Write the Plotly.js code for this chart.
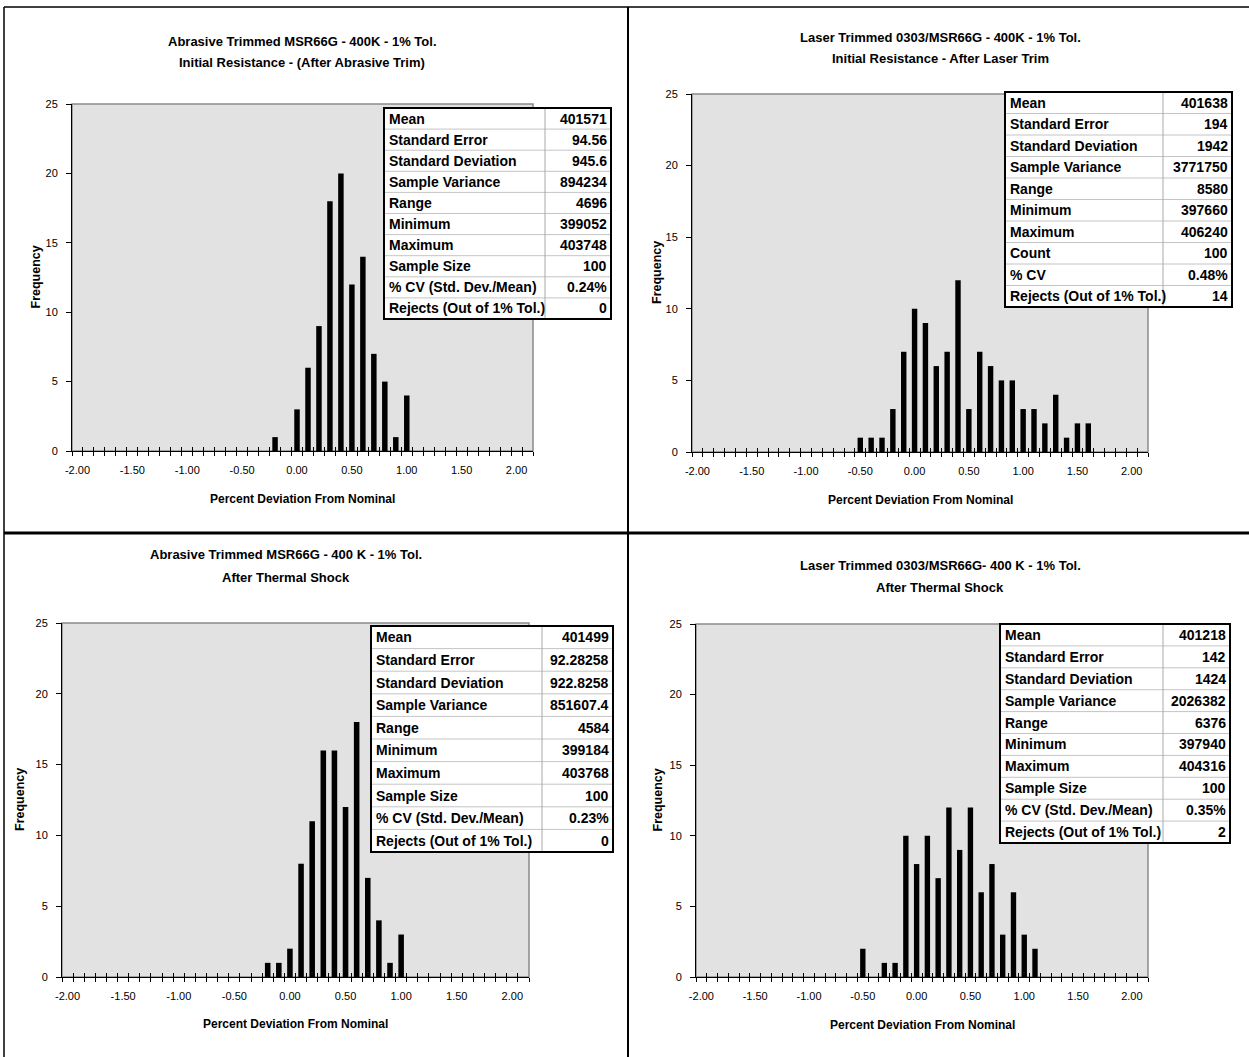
<!DOCTYPE html>
<html>
<head>
<meta charset="utf-8">
<script src="https://cdn.plot.ly/plotly-3.0.1.min.js"></script>
<style>
html,body{margin:0;padding:0;background:#fff;}
#chart{width:1249px;height:1057px;}
</style>
</head>
<body>
<div id="chart"></div>
<script>
// ---------------- DATA ----------------
const xTickVals = [-2, -1.5, -1, -0.5, 0, 0.5, 1, 1.5, 2];
const xTickText = ['-2.00', '-1.50', '-1.00', '-0.50', '0.00', '0.50', '1.00', '1.50', '2.00'];
const yTickVals = [0, 5, 10, 15, 20, 25];

const tlBins   = [-0.2, 0.0, 0.1, 0.2, 0.3, 0.4, 0.5, 0.6, 0.7, 0.8, 0.9, 1.0];
const tlCounts = [1, 3, 6, 9, 18, 20, 12, 14, 7, 5, 1, 4];

const trBins   = [-0.5, -0.4, -0.3, -0.2, -0.1, 0.0, 0.1, 0.2, 0.3, 0.4, 0.5, 0.6, 0.7, 0.8, 0.9, 1.0, 1.1, 1.2, 1.3, 1.4, 1.5, 1.6];
const trCounts = [1, 1, 1, 3, 7, 10, 9, 6, 7, 12, 3, 7, 6, 5, 5, 3, 3, 2, 4, 1, 2, 2];

const blBins   = [-0.2, -0.1, 0.0, 0.1, 0.2, 0.3, 0.4, 0.5, 0.6, 0.7, 0.8, 0.9, 1.0];
const blCounts = [1, 1, 2, 8, 11, 16, 16, 12, 18, 7, 4, 1, 3];

const brBins   = [-0.5, -0.3, -0.2, -0.1, 0.0, 0.1, 0.2, 0.3, 0.4, 0.5, 0.6, 0.7, 0.8, 0.9, 1.0, 1.1];
const brCounts = [2, 1, 1, 10, 8, 10, 7, 12, 9, 12, 6, 8, 3, 6, 3, 2];

const tlTitle = ['Abrasive Trimmed MSR66G - 400K - 1% Tol.', 'Initial Resistance - (After Abrasive Trim)'];
const trTitle = ['Laser Trimmed 0303/MSR66G - 400K - 1% Tol.', 'Initial Resistance - After Laser Trim'];
const blTitle = ['Abrasive Trimmed MSR66G - 400 K - 1% Tol.', 'After Thermal Shock'];
const brTitle = ['Laser Trimmed 0303/MSR66G- 400 K - 1% Tol.', 'After Thermal Shock'];
const xTitle = 'Percent Deviation From Nominal';
const yTitle = 'Frequency';

const tlStatLabels = ['Mean', 'Standard Error', 'Standard Deviation', 'Sample Variance', 'Range', 'Minimum', 'Maximum', 'Sample Size', '% CV (Std. Dev./Mean)', 'Rejects (Out of 1% Tol.)'];
const tlStatValues = ['401571', '94.56', '945.6', '894234', '4696', '399052', '403748', '100', '0.24%', '0'];
const trStatLabels = ['Mean', 'Standard Error', 'Standard Deviation', 'Sample Variance', 'Range', 'Minimum', 'Maximum', 'Count', '% CV', 'Rejects (Out of 1% Tol.)'];
const trStatValues = ['401638', '194', '1942', '3771750', '8580', '397660', '406240', '100', '0.48%', '14'];
const blStatLabels = ['Mean', 'Standard Error', 'Standard Deviation', 'Sample Variance', 'Range', 'Minimum', 'Maximum', 'Sample Size', '% CV (Std. Dev./Mean)', 'Rejects (Out of 1% Tol.)'];
const blStatValues = ['401499', '92.28258', '922.8258', '851607.4', '4584', '399184', '403768', '100', '0.23%', '0'];
const brStatLabels = ['Mean', 'Standard Error', 'Standard Deviation', 'Sample Variance', 'Range', 'Minimum', 'Maximum', 'Sample Size', '% CV (Std. Dev./Mean)', 'Rejects (Out of 1% Tol.)'];
const brStatValues = ['401218', '142', '1424', '2026382', '6376', '397940', '404316', '100', '0.35%', '2'];

// ---------------- LAYOUT HELPERS ----------------
const W = 1249, H = 1057;
const fx = p => p / W;
const fy = p => 1 - p / H;
const FONT = 'Liberation Sans, Arial, sans-serif';

const panels = [
  {bins: tlBins, counts: tlCounts, title: tlTitle, labels: tlStatLabels, values: tlStatValues,
   plot: [72, 533, 104, 451], titleX: 302, titleY: [42, 62], xtY: 499, ytX: 35,
   table: [384, 611, 108, 319], colSep: 545},
  {bins: trBins, counts: trCounts, title: trTitle, labels: trStatLabels, values: trStatValues,
   plot: [692, 1148, 94, 452], titleX: 940, titleY: [38, 59], xtY: 500, ytX: 657,
   table: [1005, 1232, 92, 307], colSep: 1163},
  {bins: blBins, counts: blCounts, title: blTitle, labels: blStatLabels, values: blStatValues,
   plot: [62, 529, 623, 977], titleX: 286, titleY: [554, 577], xtY: 1024, ytX: 20,
   table: [371, 613, 626, 852], colSep: 542},
  {bins: brBins, counts: brCounts, title: brTitle, labels: brStatLabels, values: brStatValues,
   plot: [696, 1148, 624, 977], titleX: 940, titleY: [565, 587], xtY: 1025, ytX: 657,
   table: [1000, 1230, 624, 843], colSep: 1163}
];

const data = [];
const layout = {
  width: W, height: H,
  margin: {l: 0, r: 0, t: 0, b: 0},
  paper_bgcolor: '#ffffff',
  plot_bgcolor: '#e2e2e2',
  showlegend: false,
  font: {family: FONT, size: 11, color: '#000'},
  shapes: [],
  annotations: []
};

const ann = (x, y, text, opts) => Object.assign({
  xref: 'paper', yref: 'paper', x: x, y: y, text: text, showarrow: false,
  xanchor: 'center', yanchor: 'middle', borderpad: 0
}, opts);

panels.forEach((p, i) => {
  const n = i + 1;
  const [l, r, t, b] = p.plot;
  const xd = [fx(l), fx(r)], yd = [fy(b), fy(t)];

  data.push({
    type: 'bar', x: p.bins, y: p.counts, width: 0.05,
    marker: {color: '#000', line: {width: 0}},
    xaxis: 'x' + n, yaxis: 'y' + n, hoverinfo: 'skip'
  });
  // empty traces registering the tick overlay axes
  data.push({type: 'scatter', x: [], y: [], xaxis: 'x' + (n + 4), yaxis: 'y' + n, hoverinfo: 'skip'});
  data.push({type: 'scatter', x: [], y: [], xaxis: 'x' + (n + 8), yaxis: 'y' + n, hoverinfo: 'skip'});

  layout['xaxis' + n] = {
    domain: xd, anchor: 'y' + n, range: [-2.05, 2.15],
    tickmode: 'array', tickvals: xTickVals, ticktext: xTickText,
    ticks: '', showgrid: false, zeroline: false,
    showline: true, linecolor: '#000', linewidth: 1,
    tickfont: {family: FONT, size: 11, color: '#000'}, ticklabelstandoff: 9
  };
  const tickAxis = (dir) => ({
    overlaying: 'x' + n, anchor: 'y' + n, side: 'bottom', range: [-2.05, 2.15],
    tickmode: 'linear', tick0: -2.05, dtick: 0.1, ticks: dir, ticklen: 4,
    tickcolor: '#000', tickwidth: 1, showticklabels: false,
    showgrid: false, zeroline: false, showline: false
  });
  layout['xaxis' + (n + 4)] = tickAxis('outside');
  layout['xaxis' + (n + 8)] = tickAxis('inside');
  layout['yaxis' + n] = {
    domain: yd, anchor: 'x' + n, range: [0, 25],
    tickmode: 'array', tickvals: yTickVals,
    ticks: 'outside', ticklen: 5, tickcolor: '#000',
    showgrid: false, zeroline: false,
    showline: true, linecolor: '#000', linewidth: 1,
    tickfont: {family: FONT, size: 11, color: '#000'}, ticklabelstandoff: 6
  };

  // gray plot frame (top & right)
  layout.shapes.push({
    type: 'rect', xref: 'x' + n + ' domain', yref: 'y' + n + ' domain',
    x0: 0, x1: 1, y0: 0, y1: 1, line: {color: '#8a8a8a', width: 1.5}, layer: 'below'
  });

  // titles
  p.title.forEach((line, k) => {
    layout.annotations.push(ann(fx(p.titleX), fy(p.titleY[k]), '<b>' + line + '</b>',
      {font: {family: FONT, size: 13, color: '#000'}}));
  });
  layout.annotations.push(ann((xd[0] + xd[1]) / 2, fy(p.xtY), '<b>' + xTitle + '</b>',
    {font: {family: FONT, size: 12, color: '#000'}}));
  layout.annotations.push(ann(fx(p.ytX), (yd[0] + yd[1]) / 2, '<b>' + yTitle + '</b>',
    {textangle: -90, font: {family: FONT, size: 12.5, color: '#000'}}));

  // statistics table (box, grid, text)
  const [tl, tr, tt, tb] = p.table;
  const nRows = p.labels.length;
  const rh = (tb - tt) / nRows;
  layout.shapes.push({
    type: 'rect', xref: 'paper', yref: 'paper',
    x0: fx(tl), x1: fx(tr), y0: fy(tb), y1: fy(tt),
    fillcolor: '#ffffff', line: {width: 0}, layer: 'above'
  });
  for (let k = 1; k < nRows; k++) {
    layout.shapes.push({
      type: 'line', xref: 'paper', yref: 'paper',
      x0: fx(tl), x1: fx(tr), y0: fy(tt + k * rh), y1: fy(tt + k * rh),
      line: {color: '#c4c4c4', width: 1}, layer: 'above'
    });
  }
  layout.shapes.push({
    type: 'line', xref: 'paper', yref: 'paper',
    x0: fx(p.colSep), x1: fx(p.colSep), y0: fy(tb), y1: fy(tt),
    line: {color: '#a8a8a8', width: 1}, layer: 'above'
  });
  layout.shapes.push({
    type: 'rect', xref: 'paper', yref: 'paper',
    x0: fx(tl), x1: fx(tr), y0: fy(tb), y1: fy(tt),
    line: {color: '#000', width: 2}, layer: 'above'
  });
  p.labels.forEach((lab, k) => {
    const yc = fy(tt + (k + 0.5) * rh);
    layout.annotations.push(ann(fx(tl + 4), yc, '<b>' + lab + '</b>',
      {xanchor: 'left', font: {family: FONT, size: 14, color: '#000'}}));
    layout.annotations.push(ann(fx(tr - 3), yc, '<b>' + p.values[k] + '</b>',
      {xanchor: 'right', font: {family: FONT, size: 14, color: '#000'}}));
  });
});

// panel dividers / frame
layout.shapes.push({type: 'line', xref: 'paper', yref: 'paper', x0: fx(4), x1: fx(4), y0: 0, y1: fy(7), line: {color: '#000', width: 1.5}});
layout.shapes.push({type: 'line', xref: 'paper', yref: 'paper', x0: fx(4), x1: 1, y0: fy(7), y1: fy(7), line: {color: '#000', width: 1.5}});
layout.shapes.push({type: 'line', xref: 'paper', yref: 'paper', x0: fx(628), x1: fx(628), y0: 0, y1: fy(7), line: {color: '#000', width: 2}});
layout.shapes.push({type: 'line', xref: 'paper', yref: 'paper', x0: fx(4), x1: 1, y0: fy(533), y1: fy(533), line: {color: '#000', width: 3}});

Plotly.newPlot('chart', data, layout, {staticPlot: true, displayModeBar: false});
</script>
</body>
</html>
